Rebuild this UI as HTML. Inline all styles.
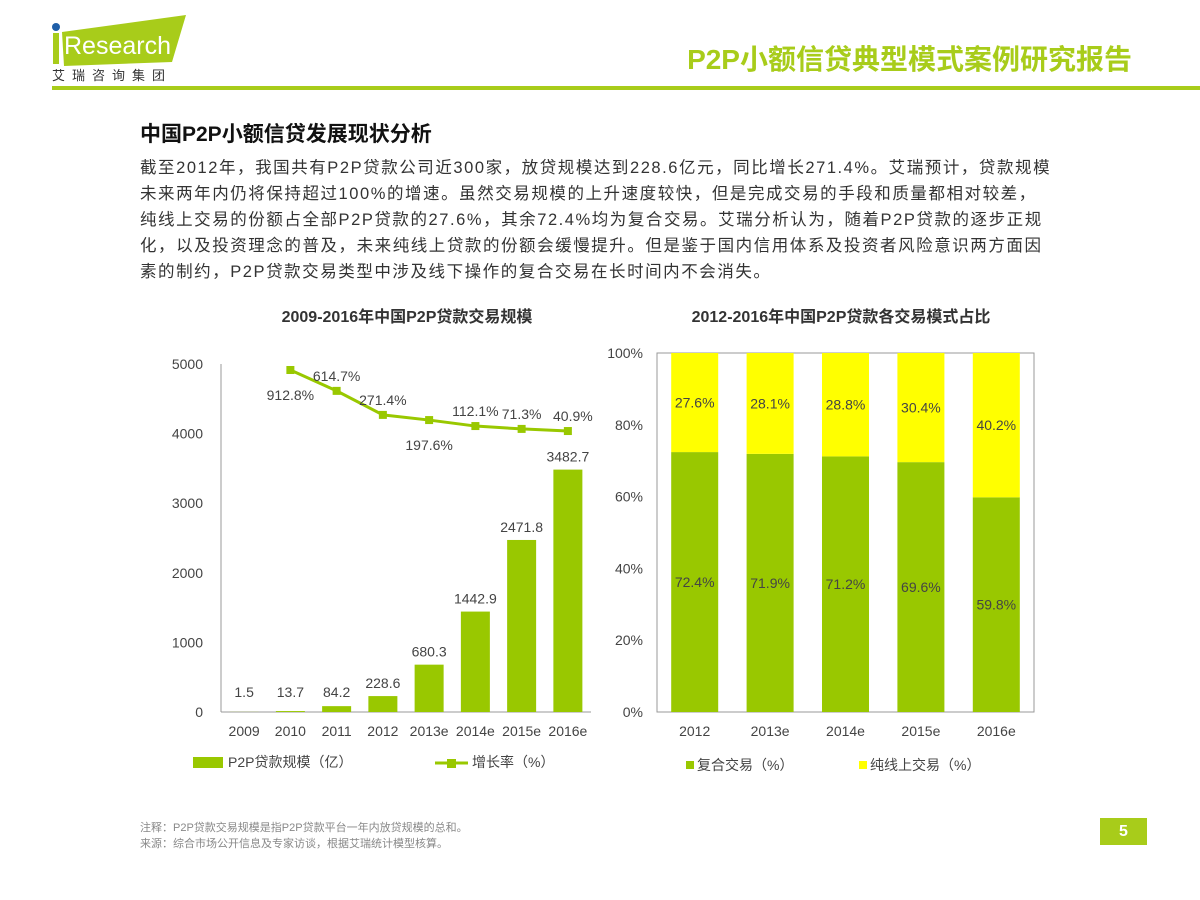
<!DOCTYPE html>
<html><head><meta charset="utf-8">
<style>
body{margin:0;width:1200px;height:900px;background:#fff;font-family:"Liberation Sans","Noto Sans CJK SC",sans-serif;position:relative;overflow:hidden;color:#333}
.abs{position:absolute}
</style></head><body>
<div class="abs" style="left:50px;top:14px;width:140px;height:70px">
<svg width="140" height="70">
<circle cx="6" cy="13" r="4" fill="#1f5fa8"/>
<rect x="3" y="19" width="6" height="31" fill="#a8cc1a"/>
<polygon points="12,18 136,1 122,48 14,52" fill="#a8cc1a"/>
<text x="14" y="40" font-size="25" fill="#fff" font-family="Liberation Sans, sans-serif">Research</text>
<text x="2" y="66" font-size="13" fill="#333" letter-spacing="7" font-family="Noto Sans CJK SC, sans-serif">艾瑞咨询集团</text>
</svg></div>
<div class="abs" style="right:68px;top:38px;font-size:28px;font-weight:bold;color:#a8cc1a">P2P小额信贷典型模式案例研究报告</div>
<div class="abs" style="left:52px;top:86px;width:1148px;height:4px;background:#a8cc1a"></div>
<div class="abs" style="left:140px;top:118px;font-size:21px;font-weight:bold;color:#111">中国P2P小额信贷发展现状分析</div>
<div class="abs" style="left:140px;top:155px;font-size:16.5px;letter-spacing:1.55px;line-height:26px;color:#333;white-space:nowrap">截至2012年，我国共有P2P贷款公司近300家，放贷规模达到228.6亿元，同比增长271.4%。艾瑞预计，贷款规模<br>未来两年内仍将保持超过100%的增速。虽然交易规模的上升速度较快，但是完成交易的手段和质量都相对较差，<br>纯线上交易的份额占全部P2P贷款的27.6%，其余72.4%均为复合交易。艾瑞分析认为，随着P2P贷款的逐步正规<br>化，以及投资理念的普及，未来纯线上贷款的份额会缓慢提升。但是鉴于国内信用体系及投资者风险意识两方面因<br>素的制约，P2P贷款交易类型中涉及线下操作的复合交易在长时间内不会消失。</div>
<svg class="abs" style="left:0;top:0" width="1200" height="900" id="charts"></svg>
<div class="abs" style="left:140px;top:820px;font-size:11px;line-height:16px;color:#888">注释：P2P贷款交易规模是指P2P贷款平台一年内放贷规模的总和。<br>来源：综合市场公开信息及专家访谈，根据艾瑞统计模型核算。</div>
<div class="abs" style="left:1100px;top:818px;width:47px;height:27px;background:#a8cc1a;color:#fff;font-weight:bold;font-size:16px;text-align:center;line-height:27px">5</div>
<script>
const years=["2009","2010","2011","2012","2013e","2014e","2015e","2016e"];
const scale=[1.5,13.7,84.2,228.6,680.3,1442.9,2471.8,3482.7];
const growth=[null,912.8,614.7,271.4,197.6,112.1,71.3,40.9];
const growthLabelAbove=[false,false,true,true,false,true,true,true];
const leftTicks=[0,1000,2000,3000,4000,5000];
const years2=["2012","2013e","2014e","2015e","2016e"];
const composite=[72.4,71.9,71.2,69.6,59.8];
const online=[27.6,28.1,28.8,30.4,40.2];
const rightTicks=[0,20,40,60,80,100];

const svg=document.getElementById('charts');const NS='http://www.w3.org/2000/svg';
function mk(t,a,txt){const e=document.createElementNS(NS,t);for(const k in a)e.setAttribute(k,a[k]);if(txt!=null)e.textContent=txt;svg.appendChild(e);return e;}
const G='#99c800',Y='#ffff00',F='Liberation Sans, Noto Sans CJK SC, sans-serif';
const lx0=221,lx1=591,ly0=712,ly1=364;
const slot=(lx1-lx0)/years.length;
const xL=i=>lx0+slot*(i+0.5);
const yL=v=>ly0-(v/5000)*(ly0-ly1);
const yG=v=>433.9-v*0.07;
let t=mk('text',{x:407,y:322,'text-anchor':'middle','font-size':16,'font-weight':'bold',fill:'#333','font-family':F},'2009-2016年中国P2P贷款交易规模');

leftTicks.forEach(v=>{const e=mk('text',{x:203,y:yL(v)+5,'text-anchor':'end','font-size':14,fill:'#444','font-family':F},v);});
let ax=mk('line',{x1:lx0,y1:ly1,x2:lx0,y2:ly0,stroke:'#999'});
ax=mk('line',{x1:lx0,y1:ly0,x2:lx1,y2:ly0,stroke:'#999'});
years.forEach((y,i)=>{
 const b=mk('rect',{x:xL(i)-14.5,y:yL(scale[i]),width:29,height:ly0-yL(scale[i]),fill:G});
 const l=mk('text',{x:xL(i),y:Math.min(yL(scale[i])-8,697),'text-anchor':'middle','font-size':14,fill:'#444','font-family':F},scale[i]);
 const xl=mk('text',{x:xL(i),y:736,'text-anchor':'middle','font-size':14,fill:'#444','font-family':F},y);
});
let pts=[];growth.forEach((g,i)=>{if(g!=null)pts.push(xL(i)+','+yG(g));});
const pl=mk('polyline',{points:pts.join(' '),fill:'none',stroke:G,'stroke-width':3});
growth.forEach((g,i)=>{if(g==null)return;
 const m=mk('rect',{x:xL(i)-4,y:yG(g)-4,width:8,height:8,fill:G});
 const dx=i==7?5:0;
 const l=mk('text',{x:xL(i)+dx,y:growthLabelAbove[i]?yG(g)-10:yG(g)+30,'text-anchor':'middle','font-size':14,fill:'#444','font-family':F},g+'%');
});
let lg=mk('rect',{x:193,y:757,width:30,height:11,fill:G});
lg=mk('text',{x:228,y:767,'font-size':14,fill:'#444','font-family':F},'P2P贷款规模（亿）');
lg=mk('line',{x1:435,y1:763,x2:468,y2:763,stroke:G,'stroke-width':3});
lg=mk('rect',{x:447,y:759,width:9,height:9,fill:G});
lg=mk('text',{x:472,y:767,'font-size':14,fill:'#444','font-family':F},'增长率（%）');
const rx0=657,rx1=1034,ry0=712,ry1=353;const rs=(rx1-rx0)/years2.length;
const xR=i=>rx0+rs*(i+0.5);const yR=v=>ry0-v/100*(ry0-ry1);
t=mk('text',{x:841,y:322,'text-anchor':'middle','font-size':16,'font-weight':'bold',fill:'#333','font-family':F},'2012-2016年中国P2P贷款各交易模式占比');
ax=mk('rect',{x:rx0,y:ry1,width:rx1-rx0,height:ry0-ry1,fill:'none',stroke:'#999'});
rightTicks.forEach(v=>{const e=mk('text',{x:643,y:yR(v)+5,'text-anchor':'end','font-size':14,fill:'#444','font-family':F},v+'%');});
years2.forEach((y,i)=>{
 const c=composite[i],o=online[i];
 let b=mk('rect',{x:xR(i)-23.5,y:yR(c),width:47,height:ry0-yR(c),fill:G});
 b=mk('rect',{x:xR(i)-23.5,y:yR(c+o),width:47,height:yR(c)-yR(c+o),fill:Y});
 let l=mk('text',{x:xR(i),y:(yR(c)+ry0)/2+5,'text-anchor':'middle','font-size':14,fill:'#444','font-family':F},c+'%');
 l=mk('text',{x:xR(i),y:(yR(c)+yR(c+o))/2+5,'text-anchor':'middle','font-size':14,fill:'#444','font-family':F},o+'%');
 l=mk('text',{x:xR(i),y:736,'text-anchor':'middle','font-size':14,fill:'#444','font-family':F},y);
});
lg=mk('rect',{x:686,y:761,width:8,height:8,fill:G});
lg=mk('text',{x:697,y:770,'font-size':14,fill:'#444','font-family':F},'复合交易（%）');
lg=mk('rect',{x:859,y:761,width:8,height:8,fill:Y});
lg=mk('text',{x:870,y:770,'font-size':14,fill:'#444','font-family':F},'纯线上交易（%）');
</script>
</body></html>
